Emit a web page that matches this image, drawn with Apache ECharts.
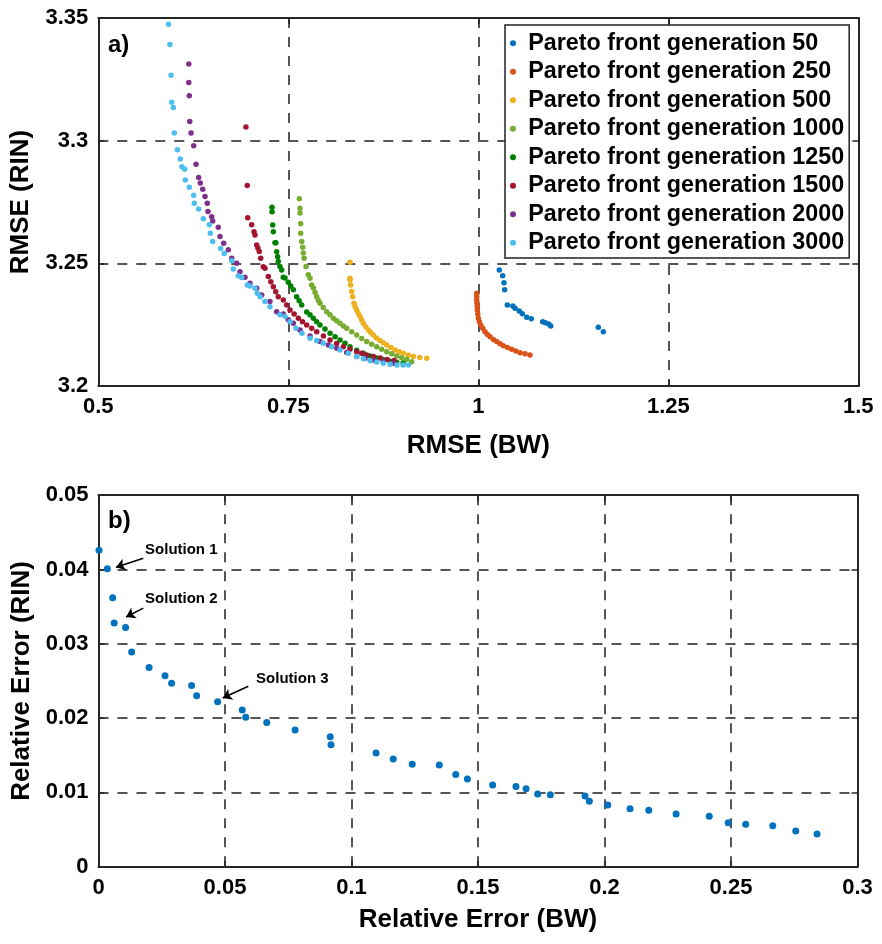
<!DOCTYPE html>
<html><head><meta charset="utf-8">
<script src="https://cdn.jsdelivr.net/npm/echarts@6/dist/echarts.min.js"></script>
<style>html,body{margin:0;padding:0;background:#fff}#c{width:882px;height:944px}</style>
</head><body><div id="c"></div>
<script>
// ---------- data ----------
const xTicksA = [0.5, 0.75, 1, 1.25, 1.5];
const yTicksA = [3.2, 3.25, 3.3, 3.35];
const xTicksB = [0, 0.05, 0.1, 0.15, 0.2, 0.25, 0.3];
const yTicksB = [0, 0.01, 0.02, 0.03, 0.04, 0.05];

const seriesNames = ['Pareto front generation 50','Pareto front generation 250','Pareto front generation 500','Pareto front generation 1000','Pareto front generation 1250','Pareto front generation 1500','Pareto front generation 2000','Pareto front generation 3000'];
const seriesColors = ['#0072BD','#D95319','#EDB120','#77AC30','#008000','#A2142F','#7E2F8E','#4DBEEE'];

const gen50 = [[1.0276,3.2473],[1.0321,3.2449],[1.0338,3.2421],[1.0347,3.2392],[1.0382,3.2330],[1.0453,3.2326],[1.0483,3.2317],[1.0539,3.2306],[1.0579,3.2294],[1.0637,3.2280],[1.0697,3.2274],[1.0847,3.2262],[1.0882,3.2258],[1.0926,3.2253],[1.0953,3.2245],[1.1579,3.2239],[1.1645,3.2221]];
const gen250 = [[0.9979,3.2378],[0.9979,3.2365],[0.9979,3.2351],[0.9983,3.2338],[0.9985,3.2324],[0.9987,3.2310],[0.9993,3.2293],[1.0000,3.2276],[1.0014,3.2262],[1.0032,3.2249],[1.0058,3.2235],[1.0088,3.2221],[1.0120,3.2210],[1.0154,3.2201],[1.0198,3.2190],[1.0242,3.2181],[1.0285,3.2172],[1.0329,3.2164],[1.0384,3.2157],[1.0439,3.2150],[1.0494,3.2143],[1.0549,3.2136],[1.0615,3.2131],[1.0680,3.2126]];
const gen500 = [[0.8312,3.2504],[0.8312,3.2439],[0.8312,3.2432],[0.8321,3.2412],[0.8334,3.2385],[0.8347,3.2364],[0.8364,3.2337],[0.8380,3.2323],[0.8400,3.2310],[0.8420,3.2297],[0.8443,3.2283],[0.8465,3.2270],[0.8487,3.2256],[0.8520,3.2242],[0.8553,3.2228],[0.8585,3.2218],[0.8618,3.2208],[0.8660,3.2196],[0.8707,3.2185],[0.8750,3.2176],[0.8795,3.2167],[0.8850,3.2157],[0.8904,3.2147],[0.8960,3.2140],[0.9013,3.2133],[0.9080,3.2126],[0.9145,3.2120],[0.9230,3.2116],[0.9321,3.2113]];
const gen1000 = [[0.7645,3.2763],[0.7654,3.2725],[0.7654,3.2705],[0.7663,3.2661],[0.7663,3.2623],[0.7676,3.2589],[0.7689,3.2566],[0.7697,3.2542],[0.7707,3.2521],[0.7733,3.2487],[0.7763,3.2453],[0.7786,3.2439],[0.7808,3.2412],[0.7830,3.2399],[0.7852,3.2381],[0.7874,3.2364],[0.7895,3.2350],[0.7917,3.2337],[0.7960,3.2320],[0.8005,3.2303],[0.8048,3.2290],[0.8092,3.2276],[0.8136,3.2266],[0.8180,3.2256],[0.8224,3.2245],[0.8268,3.2235],[0.8334,3.2221],[0.8400,3.2208],[0.8466,3.2194],[0.8532,3.2181],[0.8597,3.2170],[0.8663,3.2160],[0.8729,3.2150],[0.8795,3.2140],[0.8860,3.2131],[0.8926,3.2122],[0.8990,3.2115],[0.9058,3.2109],[0.9124,3.2099]];
const gen1250 = [[0.7286,3.2729],[0.7286,3.2710],[0.7295,3.2656],[0.7303,3.2629],[0.7325,3.2584],[0.7336,3.2584],[0.7347,3.2547],[0.7360,3.2527],[0.7368,3.2507],[0.7390,3.2487],[0.7413,3.2473],[0.7434,3.2443],[0.7457,3.2440],[0.7500,3.2423],[0.7533,3.2408],[0.7566,3.2392],[0.7610,3.2364],[0.7643,3.2347],[0.7676,3.2330],[0.7742,3.2302],[0.7785,3.2290],[0.7829,3.2276],[0.7873,3.2262],[0.7917,3.2249],[0.7983,3.2232],[0.8049,3.2215],[0.8115,3.2201],[0.8180,3.2188],[0.8246,3.2174],[0.8312,3.2160],[0.8400,3.2146],[0.8487,3.2133],[0.8575,3.2122],[0.8663,3.2114],[0.8750,3.2107],[0.8838,3.2101],[0.8926,3.2097],[0.9010,3.2094]];
const gen1500 = [[0.6943,3.3056],[0.6960,3.2817],[0.6966,3.2686],[0.7018,3.2657],[0.7049,3.2629],[0.7062,3.2615],[0.7084,3.2575],[0.7100,3.2562],[0.7118,3.2548],[0.7137,3.2521],[0.7171,3.2486],[0.7193,3.2480],[0.7237,3.2446],[0.7270,3.2425],[0.7303,3.2405],[0.7335,3.2384],[0.7368,3.2364],[0.7434,3.2351],[0.7478,3.2330],[0.7522,3.2310],[0.7577,3.2293],[0.7632,3.2276],[0.7687,3.2262],[0.7742,3.2249],[0.7808,3.2235],[0.7874,3.2221],[0.7962,3.2204],[0.8049,3.2187],[0.8136,3.2173],[0.8224,3.2160],[0.8312,3.2150],[0.8400,3.2140],[0.8466,3.2133],[0.8532,3.2126],[0.8620,3.2120],[0.8710,3.2114],[0.8800,3.2108],[0.8890,3.2104]];
const gen2000 = [[0.6190,3.3313],[0.6190,3.3237],[0.6197,3.3183],[0.6203,3.3078],[0.6220,3.3031],[0.6255,3.2979],[0.6286,3.2904],[0.6320,3.2850],[0.6342,3.2827],[0.6374,3.2802],[0.6404,3.2772],[0.6434,3.2745],[0.6443,3.2711],[0.6492,3.2690],[0.6505,3.2673],[0.6579,3.2647],[0.6601,3.2609],[0.6650,3.2582],[0.6710,3.2555],[0.6755,3.2521],[0.6820,3.2500],[0.6864,3.2466],[0.6930,3.2443],[0.6996,3.2419],[0.7084,3.2398],[0.7150,3.2371],[0.7259,3.2344],[0.7347,3.2303],[0.7434,3.2293],[0.7500,3.2270],[0.7566,3.2256],[0.7654,3.2228],[0.7786,3.2204],[0.7917,3.2181],[0.8027,3.2167],[0.8137,3.2154],[0.8268,3.2137],[0.8400,3.2120],[0.8509,3.2113],[0.8618,3.2106],[0.8750,3.2099],[0.8880,3.2093]];
const gen3000 = [[0.5924,3.3475],[0.5943,3.3392],[0.5957,3.3267],[0.5966,3.3157],[0.5987,3.3135],[0.6000,3.3031],[0.6040,3.2963],[0.6079,3.2925],[0.6100,3.2894],[0.6137,3.2884],[0.6145,3.2840],[0.6197,3.2810],[0.6255,3.2778],[0.6263,3.2745],[0.6320,3.2721],[0.6382,3.2682],[0.6460,3.2657],[0.6474,3.2623],[0.6505,3.2589],[0.6610,3.2560],[0.6658,3.2540],[0.6755,3.2511],[0.6776,3.2477],[0.6842,3.2449],[0.6887,3.2442],[0.6960,3.2412],[0.6996,3.2408],[0.7062,3.2398],[0.7092,3.2378],[0.7128,3.2364],[0.7193,3.2344],[0.7259,3.2323],[0.7390,3.2290],[0.7457,3.2283],[0.7522,3.2262],[0.7601,3.2235],[0.7680,3.2215],[0.7786,3.2195],[0.7873,3.2185],[0.7960,3.2174],[0.8070,3.2160],[0.8180,3.2147],[0.8290,3.2133],[0.8400,3.2120],[0.8488,3.2111],[0.8575,3.2103],[0.8663,3.2098],[0.8750,3.2093],[0.8840,3.2089],[0.8930,3.2086],[0.9010,3.2086],[0.9080,3.2086]];
const frontSeries = [gen50, gen250, gen500, gen1000, gen1250, gen1500, gen2000, gen3000];

const relErrBW  = [0.0002,0.0035,0.0056,0.0062,0.0107,0.0131,0.0200,0.0263,0.0289,0.0368,0.0388,0.0471,0.0568,0.0582,0.0665,0.0777,0.0916,0.0919,0.1097,0.1165,0.1240,0.1347,0.1412,0.1458,0.1558,0.1650,0.1690,0.1736,0.1786,0.1923,0.1940,0.2013,0.2101,0.2175,0.2283,0.2414,0.2489,0.2558,0.2665,0.2756,0.2840];
const relErrRIN = [0.0426,0.0401,0.0362,0.0328,0.0322,0.0289,0.0268,0.0257,0.0247,0.0244,0.0230,0.0222,0.0211,0.0201,0.0194,0.0184,0.0175,0.0164,0.0153,0.0145,0.0138,0.0137,0.0124,0.0118,0.0110,0.0108,0.0105,0.0098,0.0097,0.0095,0.0088,0.0083,0.0078,0.0076,0.0071,0.0068,0.0059,0.0057,0.0055,0.0048,0.0044];

// annotation: label, text anchor (data), arrow tail (data), arrow tip (data)
const annotLabels = ['Solution 1','Solution 2','Solution 3'];
const annotText = [[0.0184,0.0426],[0.0184,0.0360],[0.0623,0.0253]];
const annotTail = [[0.0177,0.0415],[0.0177,0.0348],[0.0592,0.0243]];
const annotTip  = [[0.0069,0.0403],[0.0109,0.0336],[0.0491,0.0227]];

// ---------- chart ----------
const FONT = 'Liberation Sans';
const AXC = '#262626';
const fmt = v => String(+(+v).toFixed(4));
function axisCfg(ticks, gridIndex, position, opts) {
  const main = position === 'bottom' || position === 'left';
  return Object.assign({
    type: 'value', gridIndex, position,
    min: ticks[0], max: ticks[ticks.length - 1],
    interval: +(ticks[1] - ticks[0]).toFixed(6),
    axisLine: { show: true, onZero: false, lineStyle: { color: AXC, width: 2 } },
    axisTick: { show: true, inside: true, length: 6, lineStyle: { color: AXC, width: 1.5 } },
    axisLabel: { show: main, formatter: fmt, color: '#000', fontFamily: FONT, fontWeight: 'bold', fontSize: 22, margin: 10 },
    splitLine: { show: main, lineStyle: { color: '#555', width: 2, type: [10, 9] } },
    nameTextStyle: { color: '#000', fontFamily: FONT, fontWeight: 'bold', fontSize: 26 },
    nameLocation: 'middle'
  }, opts || {});
}

const chart = echarts.init(document.getElementById('c'), null, { renderer: 'canvas' });

const series = frontSeries.map((d, i) => ({
  name: seriesNames[i], type: 'scatter', xAxisIndex: 0, yAxisIndex: 0,
  data: d, symbol: 'circle', symbolSize: 5.5,
  itemStyle: { color: seriesColors[i], opacity: 1 }, animation: false
}));

series.push({
  name: 'Solutions', type: 'scatter', xAxisIndex: 2, yAxisIndex: 2,
  data: relErrBW.map((x, i) => [x, relErrRIN[i]]),
  symbol: 'circle', symbolSize: 7, itemStyle: { color: '#0072BD', opacity: 1 }, animation: false,
  markPoint: {
    silent: true, animation: false, symbol: 'circle', symbolSize: 0,
    itemStyle: { color: 'rgba(0,0,0,0)' },
    label: { show: true, position: 'right', distance: 0, color: '#000', fontFamily: FONT, fontWeight: 'bold', fontSize: 15, formatter: p => p.name },
    data: annotLabels.map((l, i) => ({ name: l, coord: annotText[i] }))
  },
  markLine: {
    silent: true, animation: false, symbol: ['none', 'arrow'], symbolSize: 9,
    lineStyle: { color: '#000', width: 1.6, type: 'solid' }, label: { show: false },
    data: annotLabels.map((l, i) => [{ coord: annotTail[i] }, { coord: annotTip[i] }])
  }
});

chart.setOption({
  animation: false,
  backgroundColor: '#fff',
  grid: [
    { left: 98.3, right: 23.7, top: 18, height: 368 },
    { left: 98.5, right: 24.5, top: 495.2, height: 371.5 }
  ],
  xAxis: [
    axisCfg(xTicksA, 0, 'bottom', { name: 'RMSE (BW)', nameGap: 47 }),
    axisCfg(xTicksA, 0, 'top'),
    axisCfg(xTicksB, 1, 'bottom', { name: 'Relative Error (BW)', nameGap: 40 }),
    axisCfg(xTicksB, 1, 'top')
  ],
  yAxis: [
    axisCfg(yTicksA, 0, 'left', { name: 'RMSE (RIN)', nameGap: 64, nameRotate: 90 }),
    axisCfg(yTicksA, 0, 'right'),
    axisCfg(yTicksB, 1, 'left', { name: 'Relative Error (RIN)', nameGap: 64, nameRotate: 90 }),
    axisCfg(yTicksB, 1, 'right')
  ],
  legend: {
    data: seriesNames, orient: 'vertical', left: 505, top: 25,
    padding: [4, 5, 1, 5], itemGap: 0, itemWidth: 20.6, itemHeight: 6,
    icon: 'circle', backgroundColor: '#fff', borderColor: '#222', borderWidth: 1.5,
    textStyle: { color: '#000', fontFamily: FONT, fontWeight: 'bold', fontSize: 23.3, lineHeight: 28.5 }
  },
  graphic: [
    { type: 'text', left: 108, top: 33, style: { text: 'a)', font: 'bold 24px "Liberation Sans"', fill: '#000' } },
    { type: 'text', left: 108, top: 509, style: { text: 'b)', font: 'bold 24px "Liberation Sans"', fill: '#000' } }
  ],
  series
});
</script></body></html>
